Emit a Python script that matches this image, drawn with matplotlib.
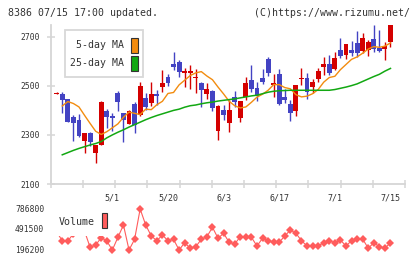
import matplotlib
matplotlib.use('Agg')
import matplotlib.pyplot as plt
import numpy as np
from matplotlib.patches import Rectangle

# ---------------- data ----------------
dates = ['4/16', '4/17', '4/20', '4/21', '4/22', '4/23', '4/24', '4/27', '4/28', '4/30',
         '5/1', '5/7', '5/8', '5/11', '5/12', '5/13', '5/14', '5/15', '5/18', '5/19',
         '5/20', '5/21', '5/22', '5/25', '5/26', '5/27', '5/28', '5/29', '6/1', '6/2',
         '6/3', '6/4', '6/5', '6/8', '6/9', '6/10', '6/11', '6/12', '6/15', '6/16',
         '6/17', '6/18', '6/19', '6/22', '6/23', '6/24', '6/25', '6/26', '6/29', '6/30',
         '7/1', '7/2', '7/3', '7/6', '7/7', '7/8', '7/9', '7/10', '7/13', '7/14',
         '7/15']
shown_dates = ['5/1', '5/20', '6/3', '6/17', '7/1', '7/15']

opens = [2468, 2467, 2445, 2374, 2361, 2276, 2306, 2228, 2259, 2399,
         2378, 2472, 2388, 2345, 2425, 2381, 2449, 2429, 2467, 2496,
         2537, 2591, 2596, 2553, 2553, 2532, 2513, 2467, 2480, 2317,
         2401, 2350, 2453, 2370, 2453, 2524, 2491, 2530, 2609, 2504,
         2548, 2453, 2426, 2399, 2528, 2533, 2496, 2528, 2578, 2589,
         2567, 2646, 2625, 2646, 2673, 2642, 2646, 2690, 2653, 2649,
         2680]
highs = [2474, 2476, 2446, 2381, 2384, 2306, 2311, 2260, 2437, 2404,
         2388, 2480, 2390, 2402, 2435, 2517, 2472, 2517, 2483, 2564,
         2550, 2639, 2605, 2574, 2585, 2568, 2515, 2510, 2482, 2420,
         2422, 2442, 2480, 2440, 2537, 2585, 2515, 2567, 2618, 2548,
         2568, 2486, 2442, 2505, 2574, 2553, 2526, 2574, 2618, 2625,
         2638, 2693, 2672, 2682, 2723, 2714, 2686, 2748, 2727, 2680,
         2750]
lows = [2466, 2389, 2353, 2275, 2291, 2228, 2256, 2187, 2257, 2328,
        2318, 2398, 2272, 2343, 2309, 2378, 2401, 2416, 2422, 2476,
        2500, 2564, 2537, 2496, 2487, 2469, 2412, 2445, 2398, 2279,
        2361, 2312, 2415, 2354, 2442, 2476, 2439, 2507, 2540, 2453,
        2424, 2429, 2358, 2378, 2503, 2446, 2469, 2514, 2544, 2544,
        2564, 2612, 2608, 2621, 2618, 2632, 2621, 2639, 2639, 2605,
        2659]
closes = [2472, 2442, 2354, 2347, 2296, 2306, 2272, 2259, 2435, 2374,
          2371, 2435, 2361, 2399, 2340, 2499, 2412, 2467, 2460, 2513,
          2510, 2578, 2557, 2560, 2560, 2536, 2483, 2487, 2410, 2418,
          2381, 2401, 2434, 2438, 2513, 2486, 2458, 2514, 2553, 2513,
          2426, 2442, 2388, 2503, 2533, 2476, 2517, 2560, 2589, 2553,
          2612, 2623, 2670, 2632, 2635, 2693, 2677, 2649, 2643, 2662,
          2748]

ma5 = [np.nan, 2418, 2436, 2428, 2414, 2380, 2347, 2315, 2302, 2313,
       2329, 2345, 2372, 2393, 2388, 2383, 2405, 2403, 2423, 2437,
       2469, 2473, 2504, 2523, 2542, 2553, 2558, 2540, 2525, 2495,
       2467, 2437, 2419, 2410, 2414, 2433, 2454, 2466, 2482, 2505,
       2505, 2493, 2488, 2464, 2455, 2458, 2468, 2485, 2515, 2534,
       2539, 2566, 2587, 2608, 2618, 2633, 2650, 2660, 2657, 2662,
       2675]
ma25 = [np.nan, 2219, 2228, 2237, 2245, 2252, 2259, 2265, 2273, 2288,
        2300, 2311, 2321, 2332, 2342, 2352, 2362, 2371, 2379, 2386,
        2393, 2400, 2405, 2413, 2419, 2422, 2427, 2431, 2434, 2438,
        2441, 2444, 2447, 2451, 2455, 2459, 2462, 2468, 2474, 2478,
        2480, 2481, 2482, 2482, 2482, 2482, 2482, 2482, 2482, 2482,
        2485, 2490, 2495, 2501, 2508, 2518, 2528, 2538, 2547, 2560,
        2571]
volume = [450000, 316000, 316000, 420000, 450000, 460000, 225000, 258000, 363000, 316000,
          186000, 369000, 546000, 186000, 340000, 777000, 546000, 388000, 320000, 402000,
          320000, 340000, 186000, 291000, 211000, 234000, 340000, 378000, 513000, 355000,
          427000, 297000, 273000, 378000, 378000, 369000, 244000, 355000, 320000, 297000,
          297000, 388000, 474000, 427000, 320000, 244000, 244000, 244000, 291000, 320000,
          291000, 330000, 244000, 320000, 340000, 345000, 211000, 291000, 234000, 211000,
          291000]

price_ticks = [2100, 2300, 2500, 2700]
volume_ticks = [196200, 491500, 786800]

# ---------------- style ----------------
UP = '#d40000'
DOWN = '#4343c3'
ORANGE = '#f28c0f'
GREEN = '#12a812'
VOLC = '#ff5c5c'
AXC = '#d6d6d6'
TXT = '#333333'
MONO = 'DejaVu Sans Mono'

W, H = 420, 259
fig = plt.figure(figsize=(W / 100, H / 100), dpi=100)


def fx(x):
    return x / W


def fy(y):
    return 1 - y / H


L, R, T, B = 50.7, 405.0, 25.0, 184.0
ax = fig.add_axes([fx(L), fy(B), fx(R) - fx(L), fy(T) - fy(B)])

n = len(closes)
x = np.arange(n)
o = np.array(opens, float)
c = np.array(closes, float)
h = np.array(highs, float)
lo = np.array(lows, float)
up = c >= o
cols = [UP if u else DOWN for u in up]

ax.vlines(x, lo, h, colors=cols, linewidth=1.0, zorder=2)
body_bottom = np.minimum(o, c)
body_h = np.maximum(np.abs(c - o), 4)
ax.bar(x, body_h, bottom=body_bottom, width=0.88, color=cols, linewidth=0, zorder=3)

ax.plot(x, ma5, color=ORANGE, lw=1.0, zorder=4)
ax.plot(x, ma25, color=GREEN, lw=1.1, zorder=4)

x0, x1 = -1.08, 62.61
ax.set_xlim(x0, x1)
ax.set_ylim(2100, 2748)
for s in ['top', 'right']:
    ax.spines[s].set_visible(False)
for s in ['left', 'bottom']:
    ax.spines[s].set_color(AXC)
    ax.spines[s].set_linewidth(1.3)
ax.set_xticks(np.linspace(x0, x1, 12))
ax.set_xticklabels([])
ax.set_yticks(price_ticks)
ax.set_yticklabels([str(t) for t in price_ticks], fontsize=5.8, family=MONO, color=TXT)
ax.tick_params(axis='both', direction='inout', length=6.2, width=1.1, color=AXC)
ax.tick_params(axis='y', pad=5.0)
ax.patch.set_alpha(0)

for d in shown_dates:
    i = dates.index(d)
    ax.text(i, -0.088, d, transform=ax.get_xaxis_transform(), ha='center', va='center',
            fontsize=6.0, family=MONO, color=TXT, clip_on=False)

# ---------------- volume ----------------
VT, VB = 205.0, 255.0
vax = fig.add_axes([fx(L), fy(VB), fx(R) - fx(L), fy(VT) - fy(VB)])
vax.plot(x, volume, color=VOLC, lw=0.8, marker='D', markersize=3.6,
         markeredgewidth=0, markerfacecolor=VOLC, clip_on=False)
vax.set_xlim(x0, x1)
vax.set_ylim(114100, 834300)
for s in vax.spines.values():
    s.set_visible(False)
vax.set_xticks([])
vax.set_yticks(volume_ticks)
vax.set_yticklabels([str(t) for t in volume_ticks], fontsize=5.8, family=MONO, color=TXT)
vax.tick_params(axis='y', length=0, pad=4.6)
vax.patch.set_alpha(0)

# volume legend (opaque box)
fig.add_artist(Rectangle((fx(52), fy(235.5)), fx(112) - fx(52), fy(206) - fy(235.5),
                         transform=fig.transFigure, facecolor='white', edgecolor='none', zorder=5))
fig.text(fx(58.3), fy(222.3), 'Volume', ha='left', va='center', fontsize=7.2,
         family=MONO, color=TXT, zorder=6)
fig.add_artist(Rectangle((fx(101.7), fy(228.3)), fx(107.3) - fx(101.7), fy(213.3) - fy(228.3),
                         transform=fig.transFigure, facecolor=VOLC, edgecolor=TXT, lw=0.8, zorder=6))

# ---------------- MA legend ----------------
fig.add_artist(Rectangle((fx(65), fy(77)), fx(143) - fx(65), fy(30) - fy(77),
                         transform=fig.transFigure, facecolor='white', edgecolor='#d8d8d8',
                         lw=1.3, zorder=5))
for label, col, yc in [('5-day MA', ORANGE, 45.3), ('25-day MA', GREEN, 63.3)]:
    fig.text(fx(124.5), fy(yc), label, ha='right', va='center', fontsize=7.1,
             family=MONO, color=TXT, zorder=6)
    fig.add_artist(Rectangle((fx(131.3), fy(yc + 7.5)), fx(137.7) - fx(131.3), fy(yc - 7.5) - fy(yc + 7.5),
                             transform=fig.transFigure, facecolor=col, edgecolor=TXT, lw=0.8, zorder=6))

# ---------------- header ----------------
fig.text(fx(8.3), fy(12.5), '8386 07/15 17:00 updated.', ha='left', va='center',
         fontsize=7.1, family=MONO, color=TXT)
fig.text(fx(410.5), fy(12.5), '(C)https://www.rizumu.net/', ha='right', va='center',
         fontsize=7.1, family=MONO, color=TXT)

fig.savefig('out.png', dpi=100, facecolor='white')
